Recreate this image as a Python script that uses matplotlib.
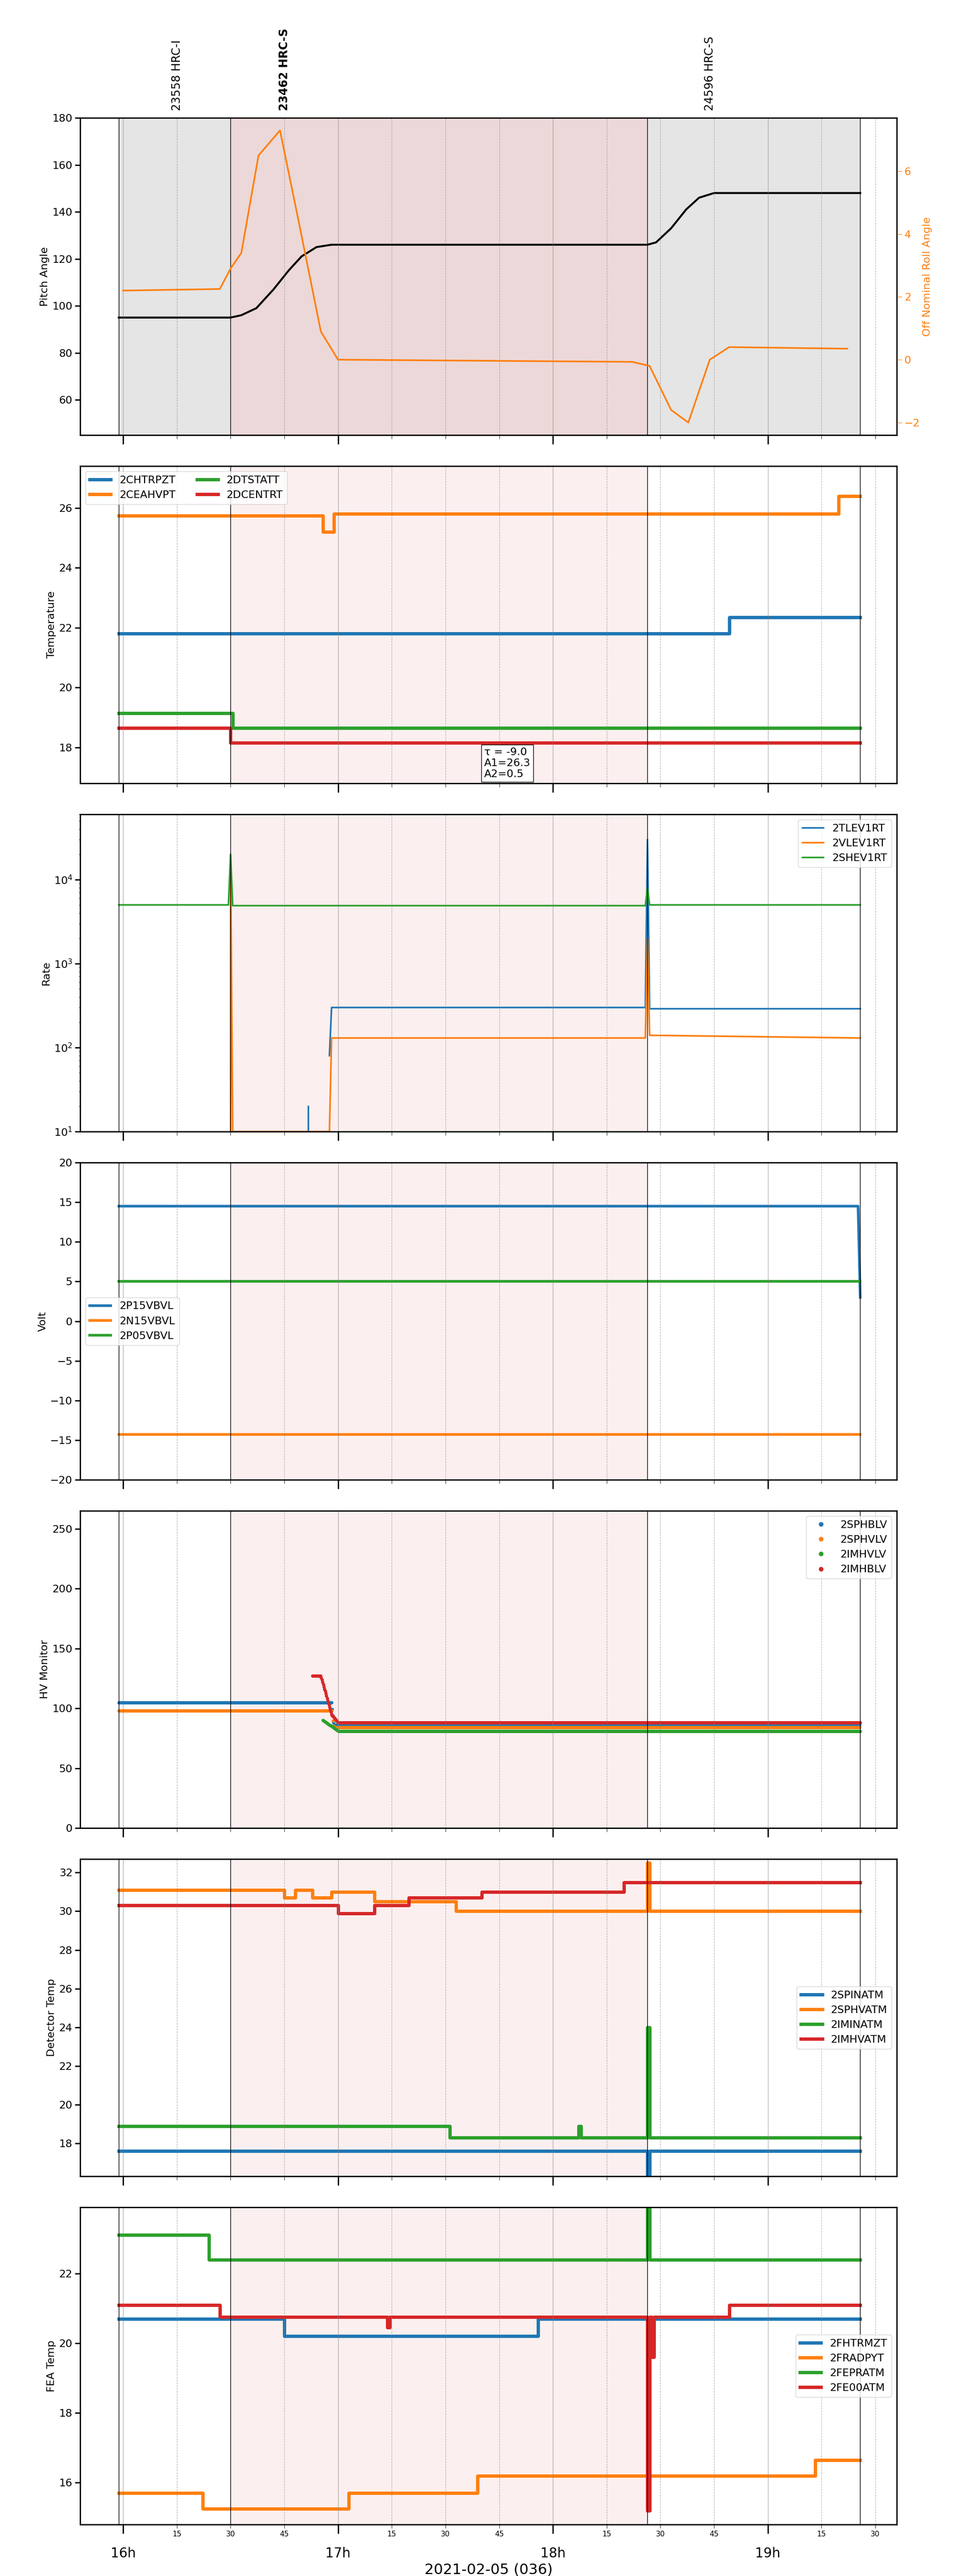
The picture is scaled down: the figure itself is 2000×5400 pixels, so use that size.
import matplotlib
matplotlib.use("Agg")
import matplotlib.pyplot as plt
import numpy as np

plt.rcParams['font.size'] = 16

# times in hours (16.5 == 16:30)
obs_edges = [15.98, 16.5, 18.44, 19.43]
obs_labels = ["23558 HRC-I", "23462 HRC-S", "24596 HRC-S"]
obs_label_t = [16.25, 16.75, 18.73]

pitch_t = [15.98, 16.5, 16.55, 16.62, 16.70, 16.77, 16.83, 16.90, 16.97, 18.44, 18.48, 18.55, 18.62, 18.68, 18.75, 19.43]
pitch_v = [95, 95, 96, 99, 107, 115, 121, 125, 126, 126, 127, 133, 141, 146, 148, 148]
roll_t = [16.0, 16.45, 16.5, 16.55, 16.63, 16.73, 16.82, 16.92, 17.0, 18.37, 18.45, 18.55, 18.63, 18.73, 18.82, 19.37]
roll_v = [2.2, 2.25, 2.9, 3.4, 6.5, 7.3, 4.3, 0.9, 0.0, -0.07, -0.2, -1.6, -2.0, 0.0, 0.4, 0.35]

temp_names = ["2CHTRPZT", "2CEAHVPT", "2DTSTATT", "2DCENTRT"]
temp_t = [[15.98, 18.82, 19.43], [15.98, 16.93, 16.98, 19.33, 19.43], [15.98, 16.51, 19.43], [15.98, 16.5, 19.43]]
temp_v = [[21.8, 22.35, 22.35], [25.75, 25.2, 25.8, 26.4, 26.4], [19.15, 18.65, 18.65], [18.65, 18.15, 18.15]]

rate_names = ["2TLEV1RT", "2VLEV1RT", "2SHEV1RT"]
rate_t = [[16.96, 16.97, 18.43, 18.44, 18.45, 19.43], [16.5, 16.5, 16.51, 16.96, 16.97, 18.43, 18.44, 18.45, 19.43],
          [15.98, 16.49, 16.5, 16.51, 18.43, 18.44, 18.45, 19.43]]
rate_v = [[80, 300, 300, 30000, 290, 290], [10, 20000, 10, 10, 130, 130, 2000, 140, 130],
          [5000, 5000, 20000, 4900, 4900, 8000, 5000, 5000]]

volt_names = ["2P15VBVL", "2N15VBVL", "2P05VBVL"]
volt_t = [[15.98, 19.42, 19.43], [15.98, 19.43], [15.98, 19.43]]
volt_v = [[14.5, 14.5, 3.0], [-14.3, -14.3], [5.0, 5.0]]

hv_names = ["2SPHBLV", "2SPHVLV", "2IMHVLV", "2IMHBLV"]
hv_t = [[15.98, 16.97, 16.98, 19.43], [15.98, 16.97, 16.98, 19.43], [16.93, 16.97, 17.0, 19.43], [16.88, 16.92, 16.97, 17.0, 19.43]]
hv_v = [[105, 105, 86, 86], [98, 98, 84, 84], [90, 85, 81, 81], [127, 127, 95, 88, 88]]

det_names = ["2SPINATM", "2SPHVATM", "2IMINATM", "2IMHVATM"]
det_t = [[15.98, 18.43, 18.44, 18.45, 19.43],
         [15.98, 16.75, 16.8, 16.88, 16.97, 17.17, 17.55, 18.43, 18.44, 18.45, 19.43],
         [15.98, 17.52, 18.12, 18.13, 18.43, 18.44, 18.45, 19.43],
         [15.98, 17.0, 17.17, 17.33, 17.67, 18.33, 19.43]]
det_v = [[17.6, 17.6, 16.3, 17.6, 17.6],
         [31.1, 30.7, 31.1, 30.7, 31.0, 30.5, 30.0, 30.0, 32.5, 30.0, 30.0],
         [18.9, 18.3, 18.9, 18.3, 18.3, 24.0, 18.3, 18.3],
         [30.3, 29.9, 30.3, 30.7, 31.0, 31.5, 31.5]]

fea_names = ["2FHTRMZT", "2FRADPYT", "2FEPRATM", "2FE00ATM"]
fea_t = [[15.98, 16.75, 17.93, 19.43],
         [15.98, 16.37, 17.05, 17.65, 19.22, 19.43],
         [15.98, 16.4, 18.43, 18.44, 18.45, 19.43],
         [15.98, 16.45, 17.23, 17.24, 18.43, 18.44, 18.45, 18.46, 18.47, 18.82, 19.43]]
fea_v = [[20.7, 20.2, 20.7, 20.7],
         [15.7, 15.25, 15.7, 16.2, 16.65, 16.65],
         [23.1, 22.4, 22.4, 24.0, 22.4, 22.4],
         [21.1, 20.75, 20.45, 20.75, 20.75, 15.2, 20.75, 19.6, 20.75, 21.1, 21.1]]

H = 5400.0
ph = 665
tops = [247 + 730 * i for i in range(7)]
fig = plt.figure(figsize=(20, 54), dpi=100)
axes = [fig.add_axes([0.084, 1 - (t + ph) / H, 0.856, ph / H]) for t in tops]


def style(ax, last=False):
    ax.set_xlim(15.8, 19.6)
    ax.set_xticks([16, 17, 18, 19])
    ax.set_xticks([h + q for h in [15, 16, 17, 18, 19] for q in (0.25, 0.5, 0.75)
                   if 15.8 < h + q < 19.6], minor=True)
    for x in ax.get_xticks():
        ax.axvline(x, color="gray", lw=0.8, alpha=0.7)
    for x in ax.get_xticks(minor=True):
        ax.axvline(x, color="gray", lw=0.8, ls="--", alpha=0.6)
    for x in obs_edges:
        ax.axvline(x, color="black", lw=1)
    ax.tick_params(axis="x", which="major", length=14, width=2)
    ax.tick_params(axis="x", which="minor", length=6)
    ax.tick_params(axis="y", length=8, width=2)
    if last:
        ax.set_xticklabels(["16h", "17h", "18h", "19h"], fontsize=20)
        ax.set_xticklabels([str(int(round((x % 1) * 60))) for x in ax.get_xticks(minor=True)],
                           minor=True, fontsize=11)
        ax.tick_params(axis="x", which="major", pad=20)
        ax.set_xlabel("2021-02-05 (036)", fontsize=22)
    else:
        ax.set_xticklabels([])
    for s in ax.spines.values():
        s.set_linewidth(2)


# panel 1
ax = axes[0]
ax.axvspan(obs_edges[0], obs_edges[-1], color="gray", alpha=0.2)
ax.axvspan(obs_edges[1], obs_edges[2], color="#f4cccc", alpha=0.5)
ax.plot(pitch_t, pitch_v, color="black", lw=3)
ax.set_ylim(45, 180)
ax.set_ylabel("Pitch Angle")
ax2 = ax.twinx()
ax2.plot(roll_t, roll_v, color="#ff7f0e", lw=2.5)
ax2.set_ylim(-2.4, 7.7)
ax2.set_yticks([-2, 0, 2, 4, 6])
ax2.set_ylabel("Off Nominal Roll Angle", color="#ff7f0e")
ax2.tick_params(axis="y", colors="#ff7f0e", length=8)
style(ax)
for lab, t in zip(obs_labels, obs_label_t):
    ax.text(t, 183, lab, rotation=90, ha="center", va="bottom", fontsize=17,
            fontweight="bold" if lab == "23462 HRC-S" and t < 17 else "normal")

cols = ["#1f77b4", "#ff7f0e", "#2ca02c", "#d62728"]


def pink(ax):
    ax.axvspan(obs_edges[1], obs_edges[2], color="#fbe0e0", alpha=0.5)


ax = axes[1]
pink(ax)
for n, t, v, c in zip(temp_names, temp_t, temp_v, cols):
    ax.plot(t, v, drawstyle="steps-post", color=c, lw=5, label=n)
ax.set_ylim(16.8, 27.4)
ax.set_ylabel("Temperature")
ax.legend(loc="upper left", ncol=2, fontsize=16)
ax.text(17.68, 17.0, "τ = -9.0\nA1=26.3\nA2=0.5", fontsize=16,
        bbox=dict(facecolor="white", edgecolor="black"))
style(ax)

ax = axes[2]
pink(ax)
for n, t, v, c in zip(rate_names, rate_t, rate_v, cols):
    ax.plot(t, v, color=c, lw=2.5, label=n)
ax.plot([16.86, 16.86], [10, 20], color=cols[0], lw=2.5)
ax.set_yscale("log")
ax.set_ylim(10, 6e4)
ax.set_ylabel("Rate")
ax.legend(loc="upper right", fontsize=16)
style(ax)

ax = axes[3]
pink(ax)
for n, t, v, c in zip(volt_names, volt_t, volt_v, cols):
    ax.plot(t, v, color=c, lw=4, label=n)
ax.set_ylim(-20, 20)
ax.set_ylabel("Volt")
ax.legend(loc="center left", fontsize=16)
style(ax)

ax = axes[4]
pink(ax)
for n, t, v, c in zip(hv_names, hv_t, hv_v, cols):
    tt = np.arange(t[0], t[-1], 0.003)
    ax.plot(tt, np.interp(tt, t, v), ".", color=c, ms=8, label=n)
ax.set_ylim(0, 265)
ax.set_ylabel("HV Monitor")
ax.legend(loc="upper right", fontsize=16, markerscale=1.5)
style(ax)

ax = axes[5]
pink(ax)
for n, t, v, c in zip(det_names, det_t, det_v, cols):
    ax.plot(t, v, drawstyle="steps-post", color=c, lw=5, label=n)
ax.set_ylim(16.3, 32.7)
ax.set_ylabel("Detector Temp")
ax.legend(loc="center right", fontsize=16)
style(ax)

ax = axes[6]
pink(ax)
for n, t, v, c in zip(fea_names, fea_t, fea_v, cols):
    ax.plot(t, v, drawstyle="steps-post", color=c, lw=5, label=n)
ax.set_ylim(14.8, 23.9)
ax.set_yticks([16, 18, 20, 22])
ax.set_ylabel("FEA Temp")
ax.legend(loc="center right", fontsize=16)
style(ax, last=True)

fig.savefig("out.png", dpi=100)
